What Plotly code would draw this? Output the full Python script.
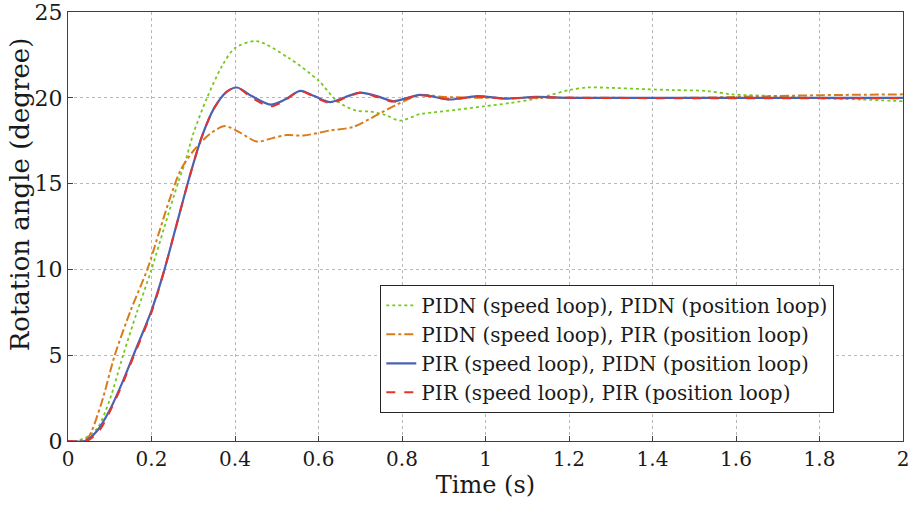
import plotly.graph_objects as go

# Data
t_green = [0, 0.02, 0.05, 0.072, 0.1, 0.132, 0.165, 0.2, 0.23, 0.263, 0.28, 0.3, 0.333, 0.37, 0.4, 0.452,
           0.53, 0.6, 0.645, 0.69, 0.724, 0.76, 0.795, 0.843, 0.875, 0.93, 0.995, 1.06, 1.13, 1.2, 1.243,
           1.3, 1.387, 1.45, 1.53, 1.59, 1.69, 1.8, 1.9, 2.0]
y_green = [0, 0, 0.3, 0.8, 2.4, 5.0, 7.5, 10.0, 12.4, 15.0, 16.2, 17.9, 20.0, 21.9, 22.9, 23.3,
           22.3, 21.0, 19.8, 19.25, 19.2, 19.0, 18.67, 19.05, 19.15, 19.3, 19.5, 19.7, 20.0, 20.45, 20.6,
           20.58, 20.5, 20.45, 20.4, 20.2, 20.1, 19.97, 19.9, 19.8]

t_orange = [0, 0.03, 0.048, 0.08, 0.112, 0.15, 0.19, 0.22, 0.245, 0.27, 0.3, 0.34, 0.376, 0.41, 0.452,
            0.49, 0.524, 0.564, 0.628, 0.683, 0.74, 0.787, 0.843, 0.9, 1.0, 1.2, 1.5, 1.6, 1.8, 2.0]
y_orange = [0, 0, 0.2, 2.2, 5.0, 7.6, 10.0, 12.3, 14.2, 15.8, 16.9, 17.9, 18.35, 18.0, 17.45,
            17.65, 17.83, 17.8, 18.1, 18.3, 19.0, 19.6, 20.15, 20.05, 20.0, 20.0, 20.0, 20.05, 20.15, 20.2]

t_blue = [0, 0.04, 0.07, 0.1, 0.13, 0.16, 0.2, 0.23, 0.26, 0.29, 0.32, 0.35, 0.38, 0.405, 0.44, 0.485,
          0.52, 0.556, 0.59, 0.628, 0.665, 0.70, 0.74, 0.78, 0.843, 0.915, 0.98, 1.05, 1.12, 1.2, 1.4,
          1.6, 1.8, 2.0]
y_blue = [0, 0, 0.6, 1.8, 3.4, 5.2, 7.6, 9.9, 12.6, 15.3, 17.7, 19.4, 20.35, 20.6, 20.1, 19.6,
          19.9, 20.4, 20.1, 19.75, 20.05, 20.3, 20.1, 19.8, 20.17, 19.9, 20.1, 19.95, 20.05, 20.0, 20.0,
          20.0, 20.0, 20.0]

t_red = [0, 0.045, 0.075, 0.1, 0.13, 0.16, 0.2, 0.23, 0.26, 0.29, 0.32, 0.35, 0.38, 0.405, 0.44, 0.485,
         0.52, 0.556, 0.59, 0.628, 0.665, 0.70, 0.74, 0.78, 0.843, 0.915, 0.98, 1.05, 1.12, 1.2, 1.4,
         1.6, 1.8, 2.0]
y_red = [0, 0, 0.6, 1.7, 3.3, 5.1, 7.5, 9.9, 12.6, 15.3, 17.7, 19.4, 20.35, 20.6, 20.0, 19.5,
         19.85, 20.4, 20.05, 19.7, 20.0, 20.3, 20.05, 19.78, 20.15, 19.9, 20.08, 19.95, 20.03, 20.0, 19.98,
         19.98, 19.98, 19.98]

names = ["PIDN (speed loop), PIDN (position loop)",
         "PIDN (speed loop), PIR (position loop)",
         "PIR (speed loop), PIDN (position loop)",
         "PIR (speed loop), PIR (position loop)"]

x_ticks = [0, 0.2, 0.4, 0.6, 0.8, 1, 1.2, 1.4, 1.6, 1.8, 2]
x_labels = ["0", "0.2", "0.4", "0.6", "0.8", "1", "1.2", "1.4", "1.6", "1.8", "2"]
y_ticks = [0, 5, 10, 15, 20, 25]

FONT = "DejaVu Serif"
TXT = "#1a1a1a"

fig = go.Figure()
fig.add_trace(go.Scatter(x=t_green, y=y_green, mode="lines", name=names[0],
                         line=dict(color="#77c81e", width=1.8, dash="dot", shape="spline", smoothing=0.8)))
fig.add_trace(go.Scatter(x=t_orange, y=y_orange, mode="lines", name=names[1],
                         line=dict(color="#d97b1a", width=2, dash="dashdot", shape="spline", smoothing=0.8)))
fig.add_trace(go.Scatter(x=t_blue, y=y_blue, mode="lines", name=names[2],
                         line=dict(color="#4a62b4", width=2.2, dash="solid", shape="spline", smoothing=0.8)))
fig.add_trace(go.Scatter(x=t_red, y=y_red, mode="lines", name=names[3],
                         line=dict(color="#e6332a", width=2, dash="dash", shape="spline", smoothing=0.8)))

axis_common = dict(
    showline=True, mirror=True, linecolor="#404040", linewidth=1,
    showgrid=True, gridcolor="#b8b8b8", griddash="dot", gridwidth=1,
    ticks="inside", ticklen=5, tickcolor="#404040",
    zeroline=False, automargin=False, ticklabeloverflow="allow",
)

fig.update_xaxes(range=[0, 2], tickvals=x_ticks, ticktext=x_labels,
                 tickfont=dict(family=FONT, size=20, color=TXT),
                 title=dict(text="Time (s)", font=dict(family=FONT, size=24, color=TXT), standoff=4),
                 **axis_common)
fig.update_yaxes(range=[0, 25], tickvals=y_ticks,
                 tickfont=dict(family=FONT, size=22, color=TXT),
                 **axis_common)

# y-axis title placed as in the reference (slightly above the axis centre)
fig.add_annotation(text="Rotation angle (degree)", textangle=-90,
                   xref="paper", yref="paper", x=-0.0575, y=0.575,
                   xanchor="center", yanchor="middle", showarrow=False,
                   font=dict(family=FONT, size=26, color=TXT))

fig.update_layout(
    width=914, height=514,
    margin=dict(l=68, r=11, t=12, b=73),
    paper_bgcolor="white", plot_bgcolor="white",
    font=dict(family=FONT, color=TXT),
    legend=dict(x=0.374, y=0.364, xanchor="left", yanchor="top",
                bgcolor="white", bordercolor="#262626", borderwidth=1,
                font=dict(family=FONT, size=20, color=TXT),
                itemwidth=30, tracegroupgap=0),
    showlegend=True,
)

fig.write_html("out.html", config={"displayModeBar": False},
               post_script="document.body.style.margin='0';")
